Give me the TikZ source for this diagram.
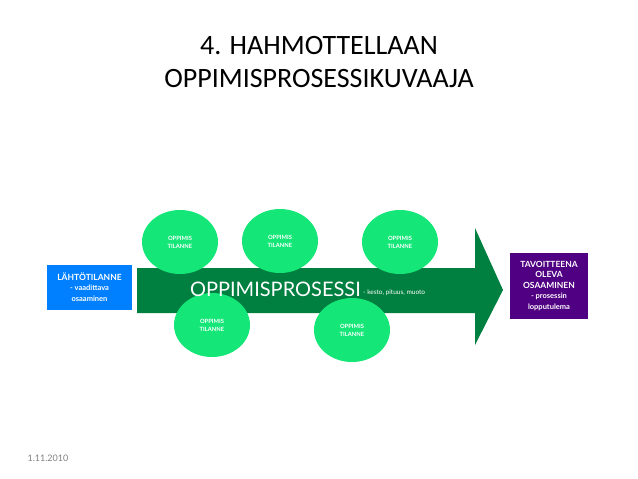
\documentclass[tikz,border=0pt]{standalone}
\usepackage{fontspec}
\usetikzlibrary{shapes.geometric}
\setmainfont{Carlito}
\newfontfamily\gill{Lato}
\definecolor{arrowg}{RGB}{0,128,64}
\definecolor{ellg}{RGB}{20,230,120}
\definecolor{bluebox}{RGB}{0,128,255}
\definecolor{purp}{RGB}{80,0,130}
\begin{document}
\begin{tikzpicture}[x=1pt,y=-1pt,
  sit/.style={ellipse,fill=ellg,minimum width=76pt,minimum height=64pt,inner sep=0pt,text=white,font=\gill\bfseries\fontsize{5.8}{8}\selectfont,align=center},
  boxs/.style={text=white,font=\gill\bfseries\fontsize{8.5}{10.5}\selectfont,align=center,inner sep=0pt}]
\useasboundingbox (0,0) rectangle (638,479);
\node[font=\fontsize{28}{33}\selectfont,align=center] (title) at (319,62) {4. HAHMOTTELLAAN\\OPPIMISPROSESSIKUVAAJA};
\fill[arrowg] (137,268) -- (475,268) -- (475,228) -- (503,290) -- (475,345) -- (475,313) -- (137,313) -- cycle;
\node[sit] (e1) at (180,242) {OPPIMIS\\TILANNE};
\node[sit] (e2) at (280,241) {OPPIMIS\\TILANNE};
\node[sit] (e3) at (400,242) {OPPIMIS\\TILANNE};
\node[sit] (e4) at (212,325) {OPPIMIS\\TILANNE};
\node[sit] (e5) at (352,330) {OPPIMIS\\TILANNE};
\node[text=white,font=\gill\fontsize{20}{22}\selectfont,anchor=east,inner sep=0pt] (op) at (361,289) {OPPIMISPROSESSI};
\node[text=white,font=\gill\fontsize{6.5}{7}\selectfont,anchor=west,inner sep=1pt] (ks) at (362,293) {- kesto, pituus, muoto};
\fill[bluebox] (47,265) rectangle (132,310);
\node[boxs] (l) at (89.5,287) {LÄHTÖTILANNE\\\fontsize{7.5}{9.5}\selectfont - vaadittava\\\fontsize{7.5}{9.5}\selectfont osaaminen};
\fill[purp] (510,253) rectangle (588,319);
\node[boxs] (r) at (549,286) {TAVOITTEENA\\OLEVA\\OSAAMINEN\\\fontsize{7.5}{10}\selectfont - prosessin\\\fontsize{7.5}{10}\selectfont lopputulema};
\node[text=gray,font=\gill\fontsize{9}{10}\selectfont,anchor=west] (d) at (24,458) {1.11.2010};
\end{tikzpicture}
\end{document}
